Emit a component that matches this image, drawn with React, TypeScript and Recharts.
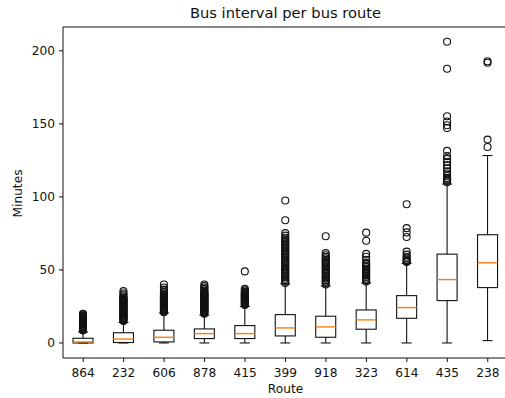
import React from 'react';
import { ComposedChart, Bar, XAxis, YAxis, ReferenceLine } from 'recharts';

// Bus routes, ordered by typical interval
const routes = ['864', '232', '606', '878', '415', '399', '918', '323', '614', '435', '238'];

// Box-plot statistics (minutes) per route
const whiskerLow = [0, 0, 0, 0, 0, 0, 0, 0, 0, 0, 1.6];
const quartile1 = [0, 0.3, 0.7, 3, 3, 4.8, 3.9, 9.4, 16.9, 29, 37.9];
const medians = [0.7, 2.7, 3.9, 6.4, 6.4, 10.3, 11, 15.8, 24.2, 43.4, 54.9];
const quartile3 = [3.2, 7, 8.7, 9.6, 11.9, 19.4, 18.3, 22.6, 32.4, 60.8, 74.1];
const whiskerHigh = [7.5, 14, 20.5, 19, 25, 40.5, 39, 41, 54.5, 108.8, 128.3];

// Outlying intervals per route
const outliers: number[][] = [
  [8.5, 9, 9.5, 10, 10.5, 11, 11.5, 12, 12.5, 13, 13.5, 14, 14.5, 15, 15.5, 16, 16.5, 17, 17.5, 18, 18.5, 19, 19.5, 20],
  [15, 15.5, 16, 16.5, 17, 17.5, 18, 18.5, 19, 19.5, 20, 20.5, 21, 21.5, 22, 22.5, 23, 23.5, 24, 24.5, 25, 25.5, 26, 26.5, 27, 27.5, 28, 28.5, 29, 29.5, 30, 30.5, 31, 32, 33, 34, 35.5],
  [21, 21.5, 22, 22.5, 23, 23.5, 24, 24.5, 25, 25.5, 26, 26.5, 27, 27.5, 28, 28.5, 29, 29.5, 30, 30.5, 31, 31.5, 32, 32.5, 33, 34, 35, 36.5, 38, 40],
  [20, 20.5, 21, 21.5, 22, 22.5, 23, 23.5, 24, 24.5, 25, 25.5, 26, 26.5, 27, 27.5, 28, 28.5, 29, 29.5, 30, 30.5, 31, 31.5, 32, 32.5, 33, 33.5, 34, 34.5, 35, 36, 37, 38, 39, 40],
  [26, 26.5, 27, 27.5, 28, 28.5, 29, 29.5, 30, 30.5, 31, 31.5, 32, 32.5, 33, 33.5, 34, 34.5, 35, 36, 37, 49],
  [41, 42, 43, 44, 45, 46, 47, 48, 49, 50, 51, 52, 53, 54, 55, 56, 57, 58, 59, 60, 61, 62, 63, 64, 65, 66, 67, 68, 69, 70, 71, 72, 73.5, 75.2, 84, 97.5],
  [40, 41, 42, 43, 44, 45, 46, 47, 48, 49, 50, 51, 52, 53, 54, 55, 56, 57, 58, 59, 60, 61.5, 73],
  [42, 43, 44, 45, 46, 47, 48, 49, 50, 51, 52, 53, 54, 55, 57, 59, 61, 70, 75.5],
  [55.5, 56, 57, 58, 59, 60.5, 62.5, 72.5, 75.7, 78.6, 95],
  [110, 111, 111.8, 112.5, 113, 114.5, 116, 117.5, 119.5, 121.7, 124, 126, 127.9, 131.5, 147.2, 149, 151.6, 155.2, 187.7, 206.2],
  [134.2, 139.2, 191.8, 192.9],
];

const yTicks = [0, 50, 100, 150, 200];
const yMin = -10.3;
const yMax = 216.3;

type Row = {
  route: string;
  lo: number;
  q1: number;
  med: number;
  q3: number;
  hi: number;
  fliers: number[];
};

const rows: Row[] = routes.map((route, i) => ({
  route,
  lo: whiskerLow[i],
  q1: quartile1[i],
  med: medians[i],
  q3: quartile3[i],
  hi: whiskerHigh[i],
  fliers: outliers[i],
}));

const FONT = '"DejaVu Sans", sans-serif';
const INK = '#111';
const TICK_FONT = 12.2;

// The bar spans the whisker range; every other level is placed on the same linear scale.
function BoxShape(props: any) {
  const { x, y, width, height, payload } = props;
  const row = payload as Row;
  const top = Math.min(y, y + height);
  const bottom = Math.max(y, y + height);
  const toY = (v: number) => bottom - ((v - row.lo) / (row.hi - row.lo)) * (bottom - top);
  const cx = x + width / 2;
  const capL = x + width / 4;
  const capR = x + (3 * width) / 4;
  const yQ1 = toY(row.q1);
  const yQ3 = toY(row.q3);
  const sw = 1.1;
  return (
    <g>
      <line x1={cx} x2={cx} y1={toY(row.lo)} y2={yQ1} stroke={INK} strokeWidth={sw} />
      <line x1={cx} x2={cx} y1={yQ3} y2={toY(row.hi)} stroke={INK} strokeWidth={sw} />
      <line x1={capL} x2={capR} y1={toY(row.lo)} y2={toY(row.lo)} stroke={INK} strokeWidth={sw} />
      <line x1={capL} x2={capR} y1={toY(row.hi)} y2={toY(row.hi)} stroke={INK} strokeWidth={sw} />
      <rect x={x} y={yQ3} width={width} height={yQ1 - yQ3} fill="none" stroke={INK} strokeWidth={sw} />
      <line x1={x} x2={x + width} y1={toY(row.med)} y2={toY(row.med)} stroke="#ff7f0e" strokeWidth={1.4} />
      {row.fliers.map((v, k) => (
        <circle key={k} cx={cx} cy={toY(v)} r={3.5} fill="none" stroke={INK} strokeWidth={1.1} />
      ))}
    </g>
  );
}

export default function App() {
  return (
    <div style={{ position: 'fixed', left: 0, top: 0, width: 505, height: 398, overflow: 'hidden', background: '#fff' }}>
      <ComposedChart width={520} height={398} data={rows} margin={{ top: 27, right: 12, bottom: 0, left: 0 }}>
        <XAxis
          dataKey="route"
          height={40}
          axisLine={{ stroke: INK }}
          tickLine={{ stroke: INK }}
          tickSize={4}
          tickMargin={6}
          tick={{ fontSize: TICK_FONT, fill: INK, fontFamily: FONT }}
          interval={0}
          label={{
            content: (p: any) => (
              <text
                x={p.viewBox.x + p.viewBox.width / 2}
                y={p.viewBox.y + 35}
                textAnchor="middle"
                fontSize={TICK_FONT}
                fontFamily={FONT}
                fill={INK}
              >
                Route
              </text>
            ),
          }}
        />
        <YAxis
          type="number"
          width={63}
          domain={[yMin, yMax]}
          ticks={yTicks}
          allowDataOverflow
          axisLine={{ stroke: INK }}
          tickLine={{ stroke: INK }}
          tickSize={4}
          tickMargin={4}
          tick={{ fontSize: TICK_FONT, fill: INK, fontFamily: FONT }}
          label={{
            content: (p: any) => {
              const cy = p.viewBox.y + p.viewBox.height / 2 + 1;
              return (
                <text
                  x={22}
                  y={cy}
                  transform={`rotate(-90, 22, ${cy})`}
                  textAnchor="middle"
                  fontSize={TICK_FONT}
                  fontFamily={FONT}
                  fill={INK}
                >
                  Minutes
                </text>
              );
            },
          }}
        />
        <ReferenceLine
          y={yMax}
          stroke={INK}
          strokeWidth={1}
          label={{
            content: (p: any) => (
              <text
                x={p.viewBox.x + p.viewBox.width / 2}
                y={p.viewBox.y - 9}
                textAnchor="middle"
                fontSize={14.7}
                fontFamily={FONT}
                fill={INK}
              >
                Bus interval per bus route
              </text>
            ),
          }}
        />
        <Bar
          dataKey={(r: Row) => [r.lo, r.hi]}
          barSize={20}
          shape={BoxShape}
          isAnimationActive={false}
        />
      </ComposedChart>
    </div>
  );
}
